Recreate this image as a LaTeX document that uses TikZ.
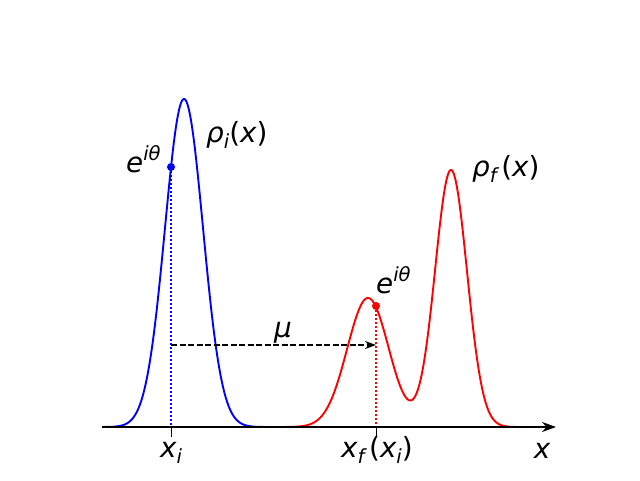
\documentclass[tikz,border=0pt]{standalone}
\usepackage{fontspec}
\setmainfont{DejaVu Sans}
\usetikzlibrary{arrows.meta}
\newcommand{\lbsub}[1]{\raisebox{-0.22em}{\fontsize{19.5}{19.5}\selectfont #1}}
\newcommand{\lbsup}[1]{\raisebox{0.42em}{\fontsize{19.5}{19.5}\selectfont #1}}
\newcommand{\up}[1]{{\upshape #1}}
\begin{document}
\begin{tikzpicture}[x=1pt,y=-1pt,
  lbl/.style={font=\fontsize{27.8}{30}\selectfont\itshape, inner sep=0pt, anchor=base west},
  clbl/.style={lbl, anchor=base},
  curve/.style={line width=1.9pt, line join=round},
  guide/.style={line width=1.7pt, dash pattern=on 1.7pt off 2.3pt},
  dot/.style={circle, inner sep=0pt, minimum size=8pt}]
\useasboundingbox (0,0) rectangle (640,480);
% curves
\draw[blue, curve] plot[domain=102:265, samples=220] (\x, {427-328*exp(-((\x-184)/26.9)^2)});
\draw[red, curve] plot[domain=285:525, samples=300] (\x, {427-129*exp(-((\x-368)/29.5)^2)-257*exp(-((\x-451)/22.6)^2)});
% coordinates
\coordinate (xi) at (171,427);
\coordinate (xf) at (376,427);
\coordinate (axs) at (102,427);
\coordinate (axe) at (556,427);
\coordinate (mus) at (171,345);
\coordinate (mue) at (376,345);
\node[dot, fill=blue] (bd) at (171,167) {};
\node[dot, fill=red] (rd) at (376,306) {};
% guides
\draw[blue, guide] (bd.center) -- (xi);
\draw[red, guide] (rd.center) -- (xf);
% mu arrow
\draw[black, line width=1.7pt, dash pattern=on 6pt off 2.5pt, -{Stealth[length=11pt, width=8pt]}] (mus) -- (mue);
% axis
\draw[black, line width=2.2pt, -{Stealth[length=14pt, width=10pt]}] (axs) -- (axe);
\draw[black, line width=1pt] (xi) -- ++(0,10);
\draw[black, line width=1pt] (xf) -- ++(0,10);
% labels
\node[lbl] (eb) at (126,172) {e\lbsup{iθ}};
\node[lbl] (ri) at (206,142) {ρ\lbsub{i}\up{(}x\up{)}};
\node[lbl] (er) at (376,293) {e\lbsup{iθ}};
\node[lbl] (rf) at (472,176) {ρ\lbsub{f}\,\up{(}x\up{)}};
\node[clbl] (mu) at (283,337) {μ};
\node[clbl] (lxi) at (171,457) {x\lbsub{i}};
\node[clbl] (lxf) at (377,457) {x\lbsub{f}\,\up{(}x\lbsub{i}\up{)}};
\node[clbl] (lx) at (542,458) {x};
\end{tikzpicture}
\end{document}
